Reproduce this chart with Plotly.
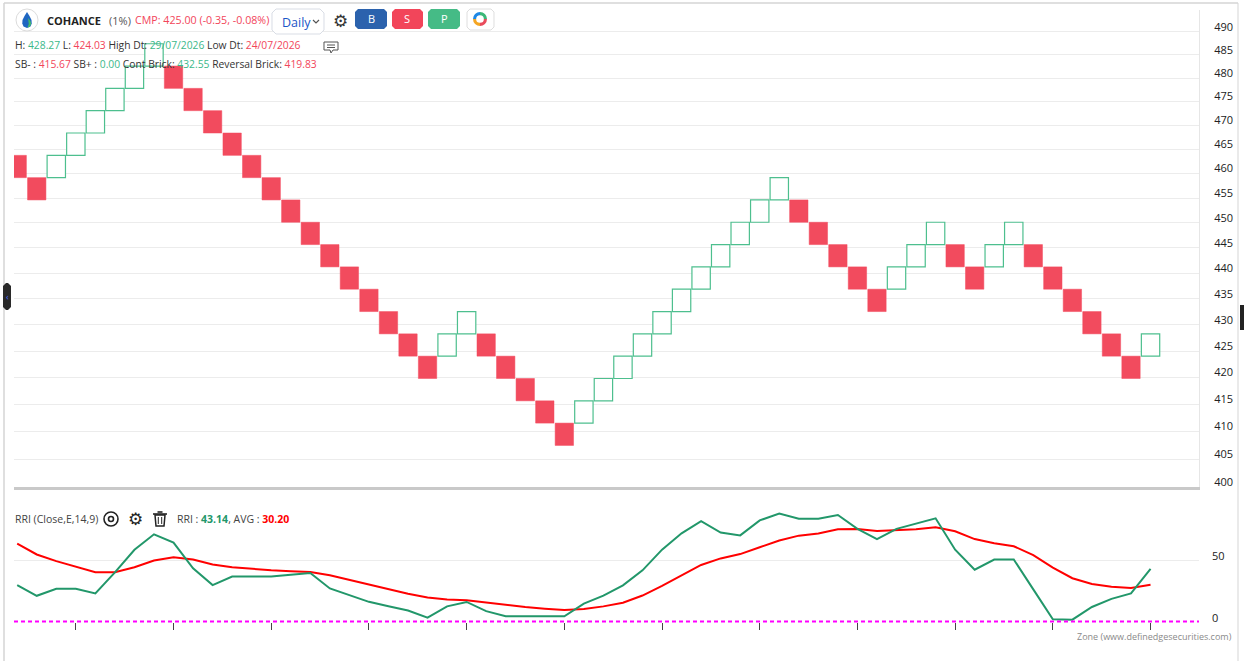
import plotly.graph_objects as go

# renko bricks (1% box)
brick_open = [463.75, 459.16, 459.16, 463.75, 468.39, 473.08, 477.81, 482.59, 482.59, 477.81,
              473.08, 468.39, 463.75, 459.16, 454.62, 450.12, 445.66, 441.25, 436.88, 432.55,
              428.27, 424.03, 424.03, 428.27, 428.27, 424.03, 419.83, 415.67, 411.56, 411.56,
              415.67, 419.83, 424.03, 428.27, 432.55, 436.88, 441.25, 445.66, 450.12, 454.62,
              454.62, 450.12, 445.66, 441.25, 436.88, 436.88, 441.25, 445.66, 445.66, 441.25,
              441.25, 445.66, 445.66, 441.25, 436.88, 432.55, 428.27, 424.03, 424.03]
brick_close = [459.16, 454.62, 463.75, 468.39, 473.08, 477.81, 482.59, 487.41, 477.81, 473.08,
               468.39, 463.75, 459.16, 454.62, 450.12, 445.66, 441.25, 436.88, 432.55, 428.27,
               424.03, 419.83, 428.27, 432.55, 424.03, 419.83, 415.67, 411.56, 407.48, 415.67,
               419.83, 424.03, 428.27, 432.55, 436.88, 441.25, 445.66, 450.12, 454.62, 459.16,
               450.12, 445.66, 441.25, 436.88, 432.55, 441.25, 445.66, 450.12, 441.25, 436.88,
               445.66, 450.12, 441.25, 436.88, 432.55, 428.27, 424.03, 419.83, 428.27]

# RRI(Close,E,14,9) and its average, one value per brick
rri = [30.0, 21.3, 27.0, 27.0, 23.2, 40.4, 58.7, 71.3, 64.5, 43.7,
       30.0, 36.9, 36.9, 36.9, 38.5, 39.9, 27.3, 21.6, 16.4, 12.8,
       9.4, 3.6, 12.7, 16.3, 8.8, 4.7, 4.7, 4.7, 4.7, 14.9,
       21.5, 29.8, 42.0, 58.8, 72.1, 82.0, 72.7, 70.4, 82.6, 88.1,
       84.0, 84.0, 87.0, 75.7, 67.4, 75.7, 79.8, 84.3, 58.8, 42.5,
       50.8, 50.8, 26.5, 2.2, 1.9, 12.2, 18.8, 23.2, 43.14]
rri_avg = [63.7, 54.9, 49.5, 44.8, 40.4, 40.4, 44.5, 50.0, 52.7, 50.8,
           46.7, 44.5, 43.2, 42.1, 41.3, 40.7, 38.0, 34.2, 30.3, 26.2,
           23.0, 19.9, 18.2, 17.7, 15.7, 13.8, 12.2, 10.8, 9.7, 10.5,
           12.7, 15.7, 21.5, 29.3, 37.8, 46.4, 51.7, 55.2, 60.8, 66.3,
           70.2, 72.0, 75.4, 75.7, 74.0, 74.6, 75.4, 77.1, 73.8, 67.4,
           64.1, 61.6, 54.4, 44.2, 35.6, 30.9, 28.7, 27.6, 30.20]

price_ticks = [400, 405, 410, 415, 420, 425, 430, 435, 440, 445,
               450, 455, 460, 465, 470, 475, 480, 485, 490]
rri_ticks = [0, 50, 100]
rri_ticktext = ["0", "50", ""]
bottom_ticks = [3, 8, 13, 18, 23, 28, 33, 38, 43, 48, 53, 58]

RED = "#f24b5e"
GREEN = "#4dbf8e"

idx = list(range(len(brick_open)))
up = [i for i in idx if brick_close[i] > brick_open[i]]
dn = [i for i in idx if brick_close[i] < brick_open[i]]

# pixel -> paper helpers (plot area 14..1199 x, 10..622 y)
W, H = 1244, 661
L_PX, R_PX, T_PX, B_PX = 14, 1199, 10, 622


def px(x):
    return (x - L_PX) / (R_PX - L_PX)


def py(y):
    return (B_PX - y) / (B_PX - T_PX)


def path(points, close=True):
    s = "M " + " L ".join(f"{px(x):.5f},{py(y):.5f}" for x, y in points)
    return s + (" Z" if close else "")


def rrect(x0, y0, x1, y1, r=3):
    # rounded rectangle as a path, in pixels
    pts = [(x0 + r, y0), (x1 - r, y0), (x1, y0 + r), (x1, y1 - r),
           (x1 - r, y1), (x0 + r, y1), (x0, y1 - r), (x0, y0 + r)]
    return path(pts)


fig = go.Figure()

fig.add_trace(go.Bar(
    x=dn, y=[brick_open[i] - brick_close[i] for i in dn], base=[brick_close[i] for i in dn],
    width=0.94, marker=dict(color=RED, line=dict(color=RED, width=0.5)),
    xaxis="x", yaxis="y", hoverinfo="skip"))
fig.add_trace(go.Bar(
    x=up, y=[brick_close[i] - brick_open[i] for i in up], base=[brick_open[i] for i in up],
    width=0.94, marker=dict(color="white", line=dict(color=GREEN, width=1.2)),
    xaxis="x", yaxis="y", hoverinfo="skip"))

fig.add_trace(go.Scatter(x=idx, y=rri_avg, mode="lines", line=dict(color="#ff0000", width=2),
                         xaxis="x2", yaxis="y2", hoverinfo="skip"))
fig.add_trace(go.Scatter(x=idx, y=rri, mode="lines", line=dict(color="#22976a", width=2),
                         xaxis="x2", yaxis="y2", hoverinfo="skip"))

# ring icon on the white button
fig.add_trace(go.Pie(values=[1, 1, 1, 1], marker=dict(colors=["#3cb878", "#1e88e5", "#f5a623", "#e94b5b"]),
                     hole=0.55, sort=False, textinfo="none", showlegend=False, hoverinfo="skip",
                     domain=dict(x=[px(473), px(487)], y=[py(26), py(12)])))

xr = [-0.164, 60.48]
tick_font = dict(family="Open Sans", size=11, color="#222")

fig.update_layout(
    width=W, height=H,
    margin=dict(l=L_PX, r=W - R_PX, t=T_PX, b=H - B_PX),
    paper_bgcolor="white", plot_bgcolor="rgba(0,0,0,0)",
    barmode="overlay", showlegend=False,
    xaxis=dict(domain=[0, 1], range=xr, anchor="y", showgrid=False, zeroline=False,
               showticklabels=False, showline=True, linecolor="#c9c9c9", linewidth=3),
    yaxis=dict(domain=[py(487), 1], type="log", range=[2.60206, 2.69443], side="right",
               tickvals=price_ticks, ticktext=[str(v) for v in price_ticks],
               showgrid=True, gridcolor="#ececec", zeroline=False,
               showline=True, linecolor="#e6e6e6", linewidth=1,
               ticklabelstandoff=12, ticklabelshift=-5, tickfont=tick_font),
    xaxis2=dict(domain=[0, 1], range=xr, anchor="y2", matches="x", showgrid=False, zeroline=False,
                showticklabels=False, ticks="outside", ticklen=7, tickwidth=1, tickcolor="#444",
                tickvals=bottom_ticks),
    yaxis2=dict(domain=[0, py(499)], range=[0, 100], side="right",
                tickvals=rri_ticks, ticktext=rri_ticktext,
                showgrid=True, gridcolor="#ececec", zeroline=False,
                ticklabelstandoff=12, ticklabelshift=-4, tickfont=tick_font),
)

shapes = []
# frame
shapes.append(dict(type="line", xref="paper", yref="paper", x0=px(4), x1=px(1238), y0=py(3), y1=py(3),
                   line=dict(color="#d5d5d5", width=1.5)))
shapes.append(dict(type="line", xref="paper", yref="paper", x0=px(4), x1=px(4), y0=py(3), y1=py(661),
                   line=dict(color="#d5d5d5", width=1.5)))
shapes.append(dict(type="line", xref="paper", yref="paper", x0=px(1238), x1=px(1238), y0=py(3), y1=py(661),
                   line=dict(color="#d5d5d5", width=1)))
# side tabs
shapes.append(dict(type="path", xref="paper", yref="paper", path=rrect(3, 283, 11, 310, 3),
                   fillcolor="#2a2a2a", line=dict(width=0)))
shapes.append(dict(type="rect", xref="paper", yref="paper", x0=px(1240), x1=px(1245), y0=py(305), y1=py(330),
                   fillcolor="#222", line=dict(width=0)))
# zero line of the oscillator (dotted magenta)
shapes.append(dict(type="line", xref="paper", yref="paper", x0=0, x1=1, y0=py(621.5), y1=py(621.5),
                   line=dict(color="#ff00ff", width=2, dash="4px,3px")))
# logo
shapes.append(dict(type="circle", xref="paper", yref="paper", x0=px(16), x1=px(38), y0=py(9), y1=py(31),
                   fillcolor="white", line=dict(color="#dcdcdc", width=1)))
shapes.append(dict(type="path", xref="paper", yref="paper",
                   path=path([(27, 12), (24.5, 16), (22.5, 20), (22.3, 23.5), (23.5, 26.5), (27, 28),
                              (30.5, 26.5), (31.7, 23.5), (31.5, 20), (29.5, 16)]),
                   fillcolor="#1f66c1", line=dict(width=0)))
shapes.append(dict(type="path", xref="paper", yref="paper",
                   path=path([(28, 18), (30.5, 21), (31.2, 24), (29.5, 27), (27.5, 27.5), (28.8, 24)]),
                   fillcolor="#43b96a", line=dict(width=0)))
# Daily dropdown
shapes.append(dict(type="path", xref="paper", yref="paper", path=rrect(272, 9, 324, 34, 4),
                   fillcolor="white", line=dict(color="#d9dde5", width=1)))
shapes.append(dict(type="path", xref="paper", yref="paper", path=path([(313, 20), (316, 23), (319, 20)], close=False),
                   line=dict(color="#555", width=1.2)))
# B / S / P buttons and white button
for x0, x1, col in [(355, 387, "#2b62ad"), (392, 423, "#f2455a"), (428, 460, "#45bb86")]:
    shapes.append(dict(type="path", xref="paper", yref="paper", path=rrect(x0, 9, x1, 29, 3),
                       fillcolor=col, line=dict(width=0)))
shapes.append(dict(type="path", xref="paper", yref="paper", path=rrect(467, 9, 494, 30, 3), layer="below",
                   fillcolor="white", line=dict(color="#dedede", width=1)))
# chat icon
shapes.append(dict(type="path", xref="paper", yref="paper",
                   path=path([(324, 42), (338, 42), (338, 50), (333, 50), (331, 53), (330, 50), (324, 50)]),
                   fillcolor="white", line=dict(color="#555", width=1)))
for yy in (45, 47.5):
    shapes.append(dict(type="line", xref="paper", yref="paper", x0=px(327), x1=px(335), y0=py(yy), y1=py(yy),
                       line=dict(color="#555", width=1)))
# eye icon
shapes.append(dict(type="circle", xref="paper", yref="paper", x0=px(104), x1=px(118), y0=py(512), y1=py(526),
                   line=dict(color="#222", width=1.6)))
shapes.append(dict(type="circle", xref="paper", yref="paper", x0=px(108.5), x1=px(113.5), y0=py(516.5), y1=py(521.5),
                   line=dict(color="#222", width=1.6)))
# trash icon
shapes.append(dict(type="line", xref="paper", yref="paper", x0=px(153), x1=px(167), y0=py(514), y1=py(514),
                   line=dict(color="#222", width=1.6)))
shapes.append(dict(type="line", xref="paper", yref="paper", x0=px(157.5), x1=px(162.5), y0=py(512), y1=py(512),
                   line=dict(color="#222", width=1.6)))
shapes.append(dict(type="path", xref="paper", yref="paper",
                   path=path([(155, 515), (165, 515), (164, 526), (156, 526)]),
                   line=dict(color="#222", width=1.5)))
for xx in (158.3, 161.7):
    shapes.append(dict(type="line", xref="paper", yref="paper", x0=px(xx), x1=px(xx), y0=py(517), y1=py(524),
                       line=dict(color="#222", width=1)))
fig.update_layout(shapes=shapes)


def note(x, y, text, size=11, color="#333", xanchor="left", family="Open Sans"):
    fig.add_annotation(x=px(x), y=py(y), xref="paper", yref="paper", text=text, showarrow=False,
                       xanchor=xanchor, yanchor="middle", align="left",
                       font=dict(family=family, size=size, color=color))


G = "#3cb88a"
R = "#f2455a"
note(45, 20, "<b>COHANCE</b>", size=11, color="#222")
note(107, 20, "(1%)", size=11, color="#555")
note(133, 20, "CMP: 425.00 (-0.35, -0.08%)", size=10.7, color=R)
note(280, 22, "Daily", size=12.5, color="#1a56c7")
note(340, 21, "⚙", size=17, color="#333", xanchor="center", family="DejaVu Sans")
note(371, 19, "B", size=11, color="white", xanchor="center")
note(407.5, 19, "S", size=11, color="white", xanchor="center")
note(444, 19, "P", size=11, color="white", xanchor="center")

note(13, 45, f"H: <span style='color:{G}'>428.27</span> L: <span style='color:{R}'>424.03</span> "
             f"High Dt: <span style='color:{G}'>29/07/2026</span> Low Dt: <span style='color:{R}'>24/07/2026</span>",
     size=10.3)
note(13, 64, f"SB- : <span style='color:{R}'>415.67</span> SB+ : <span style='color:{G}'>0.00</span> "
             f"Cont Brick: <span style='color:{G}'>432.55</span> Reversal Brick: <span style='color:{R}'>419.83</span>",
     size=10.3)
note(7.5, 296, "‹", size=9, color="#4a6cff", xanchor="center")

note(13, 519, "RRI (Close,E,14,9)", size=10.5, color="#444")
note(135, 519, "⚙", size=17, color="#222", xanchor="center", family="DejaVu Sans")
note(175, 519, "RRI : <b><span style='color:#22976a'>43.14</span></b>, "
               "AVG : <b><span style='color:#ff0000'>30.20</span></b>", size=10.5, color="#444")
note(1234, 636, "Zone (www.definedgesecurities.com)", size=9, color="#8a8a8a", xanchor="right")

# drop the browser's default page margin so the figure sits at the window's corner
fig.write_html("out.html", config={"displayModeBar": False},
               post_script="document.body.style.margin='0px';")
